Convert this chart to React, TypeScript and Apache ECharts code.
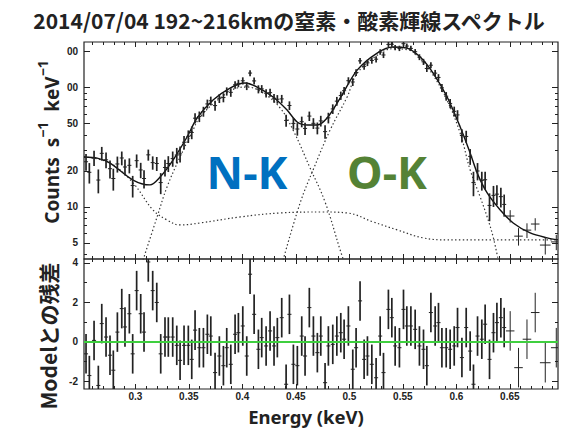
import React, { useEffect, useRef } from "react";
import * as echarts from "echarts";

const TITLE = "2014/07/04 192~216kmの窒素・酸素輝線スペクトル";

// Energy bins (keV), observed counts (s^-1 keV^-1), 1σ errors, residuals (σ)
const energy = [0.2539,0.2570,0.2614,0.2654,0.2686,0.2726,0.2763,0.2794,0.2832,0.2873,0.2903,0.2944,0.2975,0.3012,0.3050,0.3081,0.3121,0.3162,0.3200,0.3237,0.3277,0.3308,0.3349,0.3387,0.3418,0.3455,0.3495,0.3527,0.3558,0.3598,0.3636,0.3673,0.3705,0.3745,0.3785,0.3823,0.3854,0.3892,0.3932,0.3963,0.4004,0.4041,0.4072,0.4110,0.4150,0.4181,0.4222,0.4259,0.4296,0.4327,0.4368,0.4409,0.4440,0.4477,0.4514,0.4555,0.4586,0.4626,0.4664,0.4701,0.4733,0.4773,0.4804,0.4845,0.4883,0.4920,0.4951,0.4991,0.5032,0.5063,0.5100,0.5138,0.5169,0.5210,0.5250,0.5288,0.5319,0.5365,0.5397,0.5428,0.5468,0.5506,0.5537,0.5575,0.5615,0.5655,0.5693,0.5724,0.5762,0.5802,0.5833,0.5865,0.5905,0.5942,0.5980,0.6011,0.6052,0.6092,0.6129,0.6160,0.6198,0.6238,0.6269,0.6310,0.6347,0.6379,0.6416,0.6447,0.6503,0.6581,0.6660,0.6737,0.6831,0.6934];
const binHalfWidth = [0.0019,0.0019,0.0019,0.0019,0.0019,0.0019,0.0019,0.0019,0.0019,0.0019,0.0019,0.0019,0.0019,0.0019,0.0019,0.0019,0.0019,0.0019,0.0019,0.0019,0.0019,0.0019,0.0019,0.0019,0.0019,0.0019,0.0019,0.0019,0.0019,0.0019,0.0019,0.0019,0.0019,0.0019,0.0019,0.0019,0.0019,0.0019,0.0019,0.0019,0.0019,0.0019,0.0019,0.0019,0.0019,0.0019,0.0019,0.0019,0.0019,0.0019,0.0019,0.0019,0.0019,0.0019,0.0019,0.0019,0.0019,0.0019,0.0019,0.0019,0.0019,0.0019,0.0019,0.0019,0.0019,0.0019,0.0019,0.0019,0.0019,0.0019,0.0019,0.0019,0.0019,0.0019,0.0019,0.0019,0.0019,0.0019,0.0019,0.0019,0.0019,0.0019,0.0019,0.0019,0.0019,0.0019,0.0019,0.0019,0.0019,0.0019,0.0019,0.0019,0.0019,0.0019,0.0019,0.0019,0.0019,0.0019,0.0019,0.0019,0.0019,0.0019,0.0019,0.0019,0.0019,0.0019,0.0019,0.0019,0.004,0.004,0.004,0.004,0.005,0.005];
const counts = [23.9,19.5,25.8,16.8,28.1,24.8,20.9,17.3,22.9,25.7,21.6,22.3,15.1,24.4,20.4,17.3,27.3,23.5,23.1,16.0,21.4,23.1,25.4,27.2,27.8,34.8,39.0,42.0,55.3,57.1,62.9,72.8,77.3,70.5,81.1,82.3,92.8,91.0,105.3,108.1,113.7,102.8,131.9,113.4,96.7,97.3,89.5,90.4,81.2,79.7,80.2,53.0,70.6,50.0,44.9,51.7,45.4,57.6,50.1,45.7,52.5,42.7,55.7,66.1,76.8,85.5,93.9,113.9,111.1,133.4,166.9,150.2,160.6,168.1,172.3,198.2,186.9,229.0,229.7,215.7,212.5,232.4,222.0,212.1,199.1,179.4,163.9,144.1,153.4,131.7,121.2,99.3,84.5,73.5,63.1,58.9,39.6,38.9,26.5,16.0,20.0,16.7,16.9,10.3,12.5,12.8,12.2,10.5,8.4,5.7,6.4,7.2,4.8,5.1];
const countErr = [3.8,3.8,3.8,3.8,3.7,3.7,3.6,3.6,3.5,3.4,3.3,3.2,3.1,3.1,3.0,3.0,2.9,3.0,3.1,3.2,3.4,3.5,3.7,4.0,4.2,4.5,4.7,5.1,5.4,5.8,6.0,6.3,6.5,6.8,7.0,7.2,7.3,7.5,7.6,7.7,7.8,7.8,7.7,7.6,7.5,7.3,7.2,7.0,6.8,6.6,6.4,6.1,5.9,5.6,5.4,5.3,5.3,5.2,5.2,5.2,5.4,5.5,5.7,6.1,6.5,6.8,7.2,7.8,8.3,8.7,9.1,9.4,9.7,10.1,10.4,10.5,10.7,10.9,11.0,11.1,11.0,11.0,11.0,10.7,10.4,10.1,9.7,9.4,8.9,8.4,8.0,7.6,7.0,6.5,6.0,5.6,5.0,4.5,4.0,3.7,3.3,3.0,2.8,2.7,2.5,2.4,2.3,2.2,1.0,0.95,0.9,0.85,0.8,0.75];
const resid = [-0.6,-1.7,0.08,-2.2,0.93,0.25,-0.67,-1.43,0.5,1.69,0.76,1.43,-0.6,2.6,1.43,0.5,4.05,2.6,2.0,-0.6,0.25,0.25,0.25,-0.17,-0.93,-0.17,-0.17,-0.88,0.6,-0.29,-0.29,0.39,0.3,-1.55,-0.71,-1.2,-0.29,-1.13,0.39,0.47,0.81,-0.71,3.43,1.4,-0.37,0.22,-0.2,0.56,-0.2,0.22,1.23,-2.14,1.4,-1.13,-1.2,0.3,-0.71,1.74,0.3,-0.54,0.3,-2.06,-0.2,-0.12,0.3,0.47,0.14,0.81,-1.38,-0.29,2.08,-0.88,-0.71,-1.13,-1.81,0.3,-1.55,1.65,1.23,-0.2,-0.29,1.65,0.81,0.81,0.64,-0.2,-0.37,-1.2,1.49,0.81,0.98,-0.29,-0.29,-0.37,-0.2,0.73,-0.79,0.73,-0.46,-2.14,0.3,0.14,0.9,-0.88,0.47,0.98,1.23,0.73,0.56,-1.3,0.14,1.49,-1.05,-0.29];

// Best-fit model (solid) and its components (dotted)
const modelE = [0.252,0.2643,0.2763,0.2978,0.3137,0.3231,0.3352,0.3483,0.3577,0.3726,0.3885,0.4025,0.4138,0.4287,0.4418,0.4512,0.4605,0.4699,0.4792,0.4914,0.5073,0.526,0.5409,0.554,0.5662,0.5783,0.5914,0.6036,0.6129,0.6195,0.6288,0.641,0.6531,0.669,0.6849,0.695];
const modelC = [26.2,25.6,23.3,16.8,15.3,17.8,24.7,38.5,55.5,78.5,98.9,108.9,100.8,83.2,64.7,51.4,48.5,48.5,55.5,81.5,139.6,194,218,213,179.5,132,83.2,46.7,28.3,19.2,13.1,9.44,7.35,6.06,5.51,5.3];
const nkE = [0.3072,0.3203,0.3296,0.3418,0.3539,0.3605,0.3792,0.3951,0.4044,0.4194,0.4353,0.4474,0.4633,0.4773,0.4914,0.4945];
const nkC = [3.6,8.25,14.7,26.2,44.0,56.6,81.5,98.9,100.8,89.7,67.3,44.0,21.2,11.0,4.36,3.6];
const okE = [0.4381,0.454,0.4661,0.482,0.4979,0.5073,0.526,0.5409,0.554,0.5662,0.5783,0.5914,0.6036,0.6129,0.6223,0.6288,0.6344,0.6391];
const okC = [3.6,10.8,20.4,44.0,83.2,131,186,211,207,174,126.6,78,41.4,20.4,12.1,8.25,5.61,3.6];
const bgE = [0.252,0.2763,0.2978,0.3165,0.3296,0.3418,0.3605,0.3979,0.4353,0.4755,0.4979,0.5222,0.5447,0.569,0.5914,0.695];
const bgC = [26.2,23.3,15.9,9.44,7.78,7.07,7.35,8.25,8.91,9.08,8.91,7.5,6.43,5.51,5.3,5.3];

// Axis ticks
const xMajor = [0.3,0.35,0.4,0.45,0.5,0.55,0.6,0.65];
const xTickLabels = ["0.3","0.35","0.4","0.45","0.5","0.55","0.6","0.65"];
const xMinor = [0.26,0.27,0.28,0.29,0.31,0.32,0.33,0.34,0.36,0.37,0.38,0.39,0.41,0.42,0.43,0.44,0.46,0.47,0.48,0.49,0.51,0.52,0.53,0.54,0.56,0.57,0.58,0.59,0.61,0.62,0.63,0.64,0.66,0.67,0.68,0.69];
const topYMajor = [5,10,20,50,100,200];
const topYTickLabels = ["5","10","20","50","00","00"];
const topYMinor = [4,6,7,8,9,30,40,60,70,80,90];
const resMajor = [-2,0,2,4];
const resTickLabels = ["-2","0","2","4"];
const resMinor = [-1,1,3];

const X_MIN = 0.252, X_MAX = 0.695;
const TOP_MIN = 3.67, TOP_MAX = 240;
const RES_MIN = -2.38, RES_MAX = 4.2;

const lg = Math.log10;
const INK = "#222";
const labelFont = { fontSize: 10, fontWeight: "bold" as const, color: "#222", fontFamily: "'Liberation Sans Narrow', 'Liberation Sans', Arial, sans-serif" };

function findLabel(vals: number[], labels: string[], v: number) {
  const i = vals.findIndex((t) => Math.abs(t - v) < 1e-6);
  return i >= 0 ? labels[i] : "";
}

function mkX(gridIndex: number, position: string, ticks: number[], len: number, labels: boolean) {
  return {
    type: "value", gridIndex, position, min: X_MIN, max: X_MAX,
    axisLine: { show: false, onZero: false },
    splitLine: { show: false },
    axisTick: { show: true, inside: true, length: len, customValues: ticks, lineStyle: { color: INK, width: 1 } },
    axisLabel: labels
      ? { show: true, customValues: xMajor, margin: 2, lineHeight: 10, formatter: (v: number) => findLabel(xMajor, xTickLabels, v), ...labelFont }
      : { show: false },
  };
}

function mkY(gridIndex: number, position: string, min: number, max: number, ticks: number[], len: number, labelVals: number[] | null, labelTexts: string[] | null) {
  return {
    type: "value", gridIndex, position, min, max,
    axisLine: { show: false, onZero: false },
    splitLine: { show: false },
    axisTick: { show: true, inside: true, length: len, customValues: ticks, lineStyle: { color: INK, width: 1 } },
    axisLabel: labelVals
      ? { show: true, customValues: labelVals, margin: 6, formatter: (v: number) => findLabel(labelVals, labelTexts as string[], v), ...labelFont }
      : { show: false },
  };
}

function errRender(params: any, api: any) {
  const x = api.value(0), y = api.value(1), lo = api.value(2), hi = api.value(3), hw = api.value(4);
  const pL = api.coord([x - hw, y]);
  const pR = api.coord([x + hw, y]);
  const pLo = api.coord([x, lo]);
  const pHi = api.coord([x, hi]);
  const w = hw > 0.003 ? 1 : 1.7;
  return {
    type: "group",
    children: [
      { type: "line", shape: { x1: pL[0], y1: pL[1], x2: pR[0], y2: pR[1] }, style: { stroke: INK, lineWidth: 1 } },
      { type: "line", shape: { x1: pLo[0], y1: pLo[1], x2: pHi[0], y2: pHi[1] }, style: { stroke: INK, lineWidth: w } },
    ],
  };
}

export default function App() {
  const ref = useRef<HTMLDivElement>(null);
  useEffect(() => {
    document.body.style.margin = "0";
    const chart = echarts.init(ref.current as HTMLDivElement, null, { renderer: "svg" });

    const topData = energy.map((e, i) => [e, lg(counts[i]), lg(counts[i] - countErr[i]), lg(counts[i] + countErr[i]), binHalfWidth[i]]);
    const resData = energy.map((e, i) => [e, resid[i], resid[i] - 1, resid[i] + 1, binHalfWidth[i]]);
    const dotted = { color: "#333", width: 1.2, type: [1.4, 2.4] as number[] };

    const topMinLog = lg(TOP_MIN), topMaxLog = lg(TOP_MAX);
    const topMajorLog = topYMajor.map(lg);
    const topMinorLog = topYMinor.map(lg);

    const option: any = {
      animation: false,
      backgroundColor: "#fff",
      grid: [
        { left: 84, top: 42, width: 474, height: 217, show: true, borderColor: INK, borderWidth: 1.2, backgroundColor: "transparent" },
        { left: 84, top: 259, width: 474, height: 130, show: true, borderColor: INK, borderWidth: 1.2, backgroundColor: "transparent" },
      ],
      xAxis: [
        mkX(0, "bottom", xMajor, 5, false),
        mkX(0, "bottom", xMinor, 3, false),
        mkX(0, "top", xMajor, 5, false),
        mkX(0, "top", xMinor, 3, false),
        mkX(1, "bottom", xMajor, 5, true),
        mkX(1, "bottom", xMinor, 3, false),
        mkX(1, "top", xMajor, 5, false),
        mkX(1, "top", xMinor, 3, false),
      ],
      yAxis: [
        mkY(0, "left", topMinLog, topMaxLog, topMajorLog, 6, topMajorLog, topYTickLabels),
        mkY(0, "left", topMinLog, topMaxLog, topMinorLog, 3, null, null),
        mkY(0, "right", topMinLog, topMaxLog, topMajorLog, 6, null, null),
        mkY(0, "right", topMinLog, topMaxLog, topMinorLog, 3, null, null),
        mkY(1, "left", RES_MIN, RES_MAX, resMajor, 6, resMajor, resTickLabels),
        mkY(1, "left", RES_MIN, RES_MAX, resMinor, 3, null, null),
        mkY(1, "right", RES_MIN, RES_MAX, resMajor, 6, null, null),
        mkY(1, "right", RES_MIN, RES_MAX, resMinor, 3, null, null),
      ],
      series: [
        { type: "line", xAxisIndex: 0, yAxisIndex: 0, data: bgE.map((e, i) => [e, lg(bgC[i])]), showSymbol: false, symbol: "none", smooth: 0.4, lineStyle: dotted, z: 2 },
        { type: "line", xAxisIndex: 0, yAxisIndex: 0, data: nkE.map((e, i) => [e, lg(nkC[i])]), showSymbol: false, symbol: "none", smooth: 0.4, lineStyle: dotted, z: 2 },
        { type: "line", xAxisIndex: 0, yAxisIndex: 0, data: okE.map((e, i) => [e, lg(okC[i])]), showSymbol: false, symbol: "none", smooth: 0.4, lineStyle: dotted, z: 2 },
        { type: "line", xAxisIndex: 0, yAxisIndex: 0, data: modelE.map((e, i) => [e, lg(modelC[i])]), showSymbol: false, symbol: "none", smooth: 0.3, lineStyle: { color: "#111", width: 1.4 }, z: 3 },
        { type: "custom", xAxisIndex: 0, yAxisIndex: 0, data: topData, renderItem: errRender, encode: { x: 0, y: 1 }, clip: true, z: 4 },
        { type: "custom", xAxisIndex: 4, yAxisIndex: 4, data: resData, renderItem: errRender, encode: { x: 0, y: 1 }, clip: true, z: 4 },
        { type: "line", xAxisIndex: 4, yAxisIndex: 4, data: [[X_MIN, 0], [X_MAX, 0]], showSymbol: false, symbol: "none", lineStyle: { color: "#3fcf3f", width: 1.8 }, z: 6 },
      ],
      graphic: [
        { type: "text", x: 289, y: 20, style: { text: TITLE, fontSize: 21, fontWeight: "bold", fontFamily: "'Noto Sans CJK JP', 'Noto Sans', sans-serif", fill: "#222", align: "center", verticalAlign: "middle" } },
        {
          type: "text", x: 48, y: 142, rotation: Math.PI / 2,
          style: {
            text: "{a|Counts  s}{b|−1}{a|  keV}{b|−1}",
            align: "center", verticalAlign: "middle", fill: "#222",
            rich: {
              a: { fontSize: 19, fontWeight: "bold", fontFamily: "'Noto Sans', sans-serif", fill: "#222", lineHeight: 26, verticalAlign: "bottom" },
              b: { fontSize: 14, fontWeight: "bold", fontFamily: "'Noto Sans', sans-serif", fill: "#222", lineHeight: 26, verticalAlign: "top" },
            },
          },
        },
        { type: "text", x: 48, y: 336, rotation: Math.PI / 2, style: { text: "Modelとの残差", fontSize: 21, fontWeight: "bold", fontFamily: "'Noto Sans CJK JP', sans-serif", fill: "#222", align: "center", verticalAlign: "middle" } },
        { type: "text", x: 306, y: 416.5, style: { text: "Energy (keV)", fontSize: 18.5, fontWeight: "bold", fontFamily: "'Noto Sans', sans-serif", fill: "#222", align: "center", verticalAlign: "middle" } },
        { type: "text", x: 247, y: 171, style: { text: "N-K", fontSize: 45, fontWeight: "bold", fontFamily: "'Noto Sans', sans-serif", fill: "#0070C0", align: "center", verticalAlign: "middle" } },
        { type: "text", x: 387, y: 171, style: { text: "O-K", fontSize: 45, fontWeight: "bold", fontFamily: "'Noto Sans', sans-serif", fill: "#548235", align: "center", verticalAlign: "middle" } },
      ],
    };
    chart.setOption(option);
    return () => chart.dispose();
  }, []);
  return <div ref={ref} style={{ width: 564, height: 429 }} />;
}
